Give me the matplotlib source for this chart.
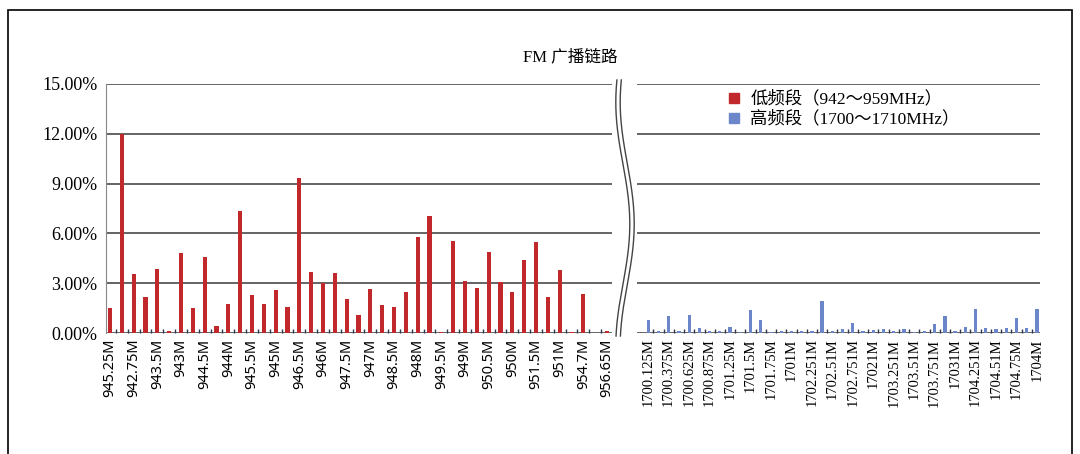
import matplotlib.pyplot as plt
import numpy as np
from matplotlib.lines import Line2D
from matplotlib.patches import Rectangle

# low band (942~959MHz), one bar per channel, every other channel labelled
low_labels = ["945.25M", "942.75M", "943.5M", "943M", "944.5M", "944M", "945.5M", "945M",
              "946.5M", "946M", "947.5M", "947M", "948.5M", "948M", "949.5M", "949M",
              "950.5M", "950M", "951.5M", "951M", "954.7M", "956.65M"]
low_values = [1.48, 12.0, 3.54, 2.14, 3.86, 0.10, 4.84, 1.48, 4.56, 0.40, 1.72,
              7.35, 2.26, 1.72, 2.60, 1.56, 9.35, 3.70, 3.00, 3.62, 2.04, 1.10,
              2.64, 1.70, 1.56, 2.46, 5.76, 7.05, 0.04, 5.54, 3.14, 2.70, 4.88,
              3.08, 2.44, 4.40, 5.48, 2.14, 3.78, 0.08, 2.36, 0.02, 0.10]

# high band (1700~1710MHz)
high_labels = ["1700.125M", "1700.375M", "1700.625M", "1700.875M", "1701.25M", "1701.5M",
               "1701.75M", "1701M", "1702.251M", "1702.51M", "1702.751M", "17021M",
               "1703.251M", "1703.51M", "1703.751M", "17031M", "1704.251M", "1704.51M",
               "1704.75M", "1704M"]
high_values = [0.76, 0.10, 1.04, 0.10, 1.08, 0.30, 0.10, 0.10, 0.36, 0.05,
               1.40, 0.76, 0.05, 0.10, 0.10, 0.10, 0.15, 1.90, 0.10, 0.26,
               0.60, 0.10, 0.20, 0.25, 0.10, 0.25, 0.05, 0.10, 0.56, 1.00,
               0.10, 0.36, 1.44, 0.32, 0.26, 0.28, 0.92, 0.32, 1.44]

yticks = [0, 3, 6, 9, 12, 15]

red = "#c0282c"
blue = "#6b87c9"
serif_cjk = ["Liberation Serif", "Noto Sans CJK SC"]

fig = plt.figure(figsize=(10.8, 4.54), dpi=100)
ax1 = fig.add_axes([106 / 1080, 1 - 333 / 454, 506 / 1080, 249 / 454])
ax2 = fig.add_axes([637 / 1080, 1 - 333 / 454, 403 / 1080, 249 / 454])


def style_axis(ax, n, labels, font, size, xlim):
    ax.set_ylim(0, 15)
    ax.set_yticks(yticks)
    ax.grid(axis="y", color="#3a3a3a", linewidth=1.1)
    ax.set_axisbelow(True)
    for s in ["top", "right", "bottom"]:
        ax.spines[s].set_visible(False)
    ax.set_xlim(*xlim)
    ax.set_xticks(np.arange(0, n, 2))
    ax.set_xticklabels(labels, rotation=90, fontsize=size, family=font)
    ax.tick_params(axis="x", which="major", length=0, pad=4)
    ax.set_xticks(np.arange(0.5, n - 1, 1), minor=True)
    ax.tick_params(axis="x", which="minor", direction="in", length=3,
                   color="#2b3550", width=1)


x1 = np.arange(len(low_values))
ax1.bar(x1, low_values, width=0.36, color=red, zorder=3)
style_axis(ax1, len(low_values), low_labels, "Noto Sans", 10.5, (-0.34, 42.42))
ax1.spines["left"].set_color("#888888")
ax1.set_yticklabels([f"{v:.2f}%" for v in yticks], family="Liberation Serif", fontsize=13)
ax1.tick_params(axis="y", length=0, pad=6)

x2 = np.arange(len(high_values))
ax2.bar(x2, high_values, width=0.32, color=blue, zorder=3)
style_axis(ax2, len(high_values), high_labels, "Liberation Serif", 10.5, (-1.1, 38.3))
ax2.spines["left"].set_visible(False)
ax2.tick_params(axis="y", length=0, labelleft=False)

# legend
h_low = Line2D([], [], marker="s", linestyle="", color=red, markersize=7)
h_high = Line2D([], [], marker="s", linestyle="", color=blue, markersize=7)
ax2.legend([h_low, h_high], ["低频段（942～959MHz）", "高频段（1700～1710MHz）"],
           loc="upper left", bbox_to_anchor=(0.18, 1.035), frameon=False,
           prop={"family": serif_cjk, "size": 12.5}, handletextpad=0.45,
           labelspacing=0.2, handlelength=1.0)

fig.text(570 / 1080, 1 - 57 / 454, "FM 广播链路", ha="center", va="center",
         family=serif_cjk, fontsize=12)

# axis break mark
yy = np.linspace(80, 336, 200)
t = (yy - 80) / 256
xx = 625 - 7 * np.sin(2 * np.pi * t * 1.05 + 1.0)
for dx in (-2.2, 2.2):
    fig.add_artist(Line2D((xx + dx) / 1080, 1 - yy / 454, color="#444444", linewidth=1.0))

# outer frame
fig.add_artist(Rectangle((8 / 1080, -0.01), 1064 / 1080, 1 - 10 / 454 + 0.01,
                         fill=False, edgecolor="black", linewidth=1.2,
                         transform=fig.transFigure))

fig.savefig("out.png", dpi=100)
